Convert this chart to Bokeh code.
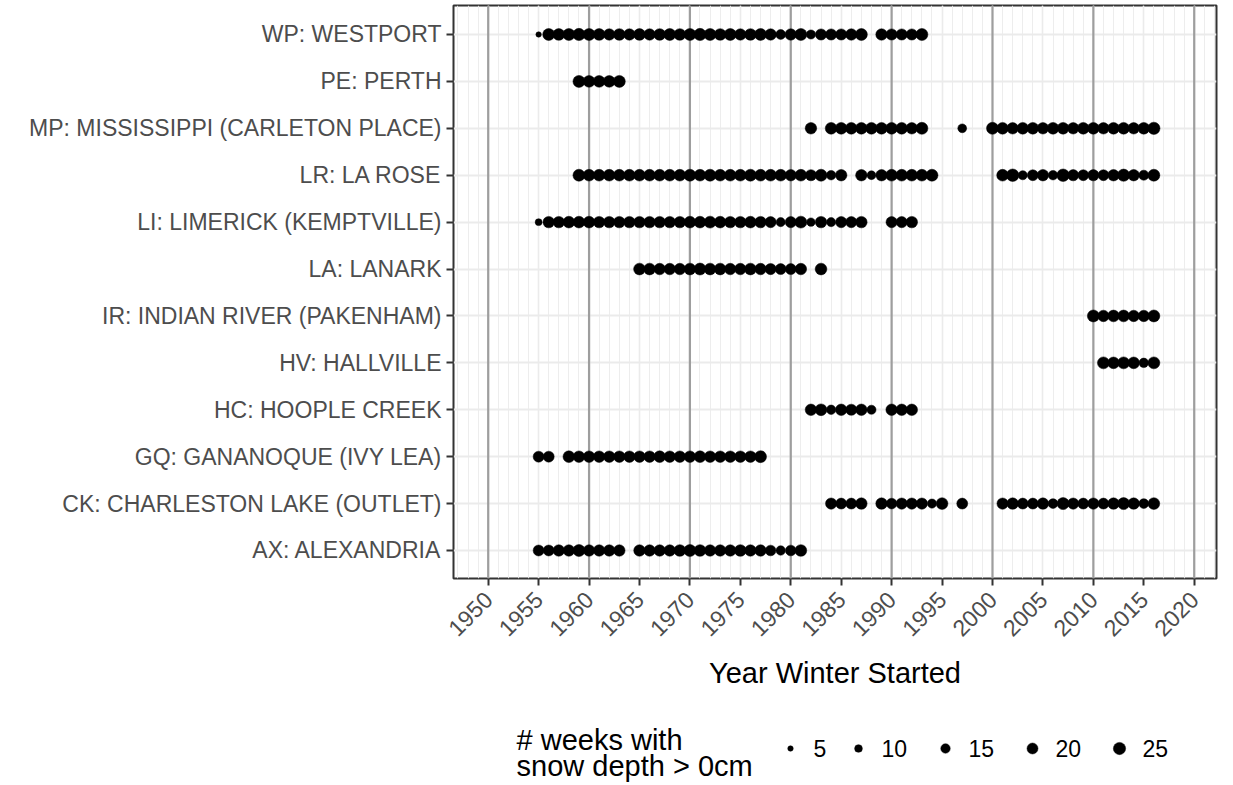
import math
from bokeh.plotting import figure
from bokeh.models import ColumnDataSource, FixedTicker, Range1d, Span
from bokeh.layouts import column
from bokeh.embed import file_html
from bokeh.resources import INLINE
from bokeh.core.properties import value

FONT = "Liberation Sans"

# ---------------- data ----------------
stations = [
    "AX: ALEXANDRIA",
    "CK: CHARLESTON LAKE (OUTLET)",
    "GQ: GANANOQUE (IVY LEA)",
    "HC: HOOPLE CREEK",
    "HV: HALLVILLE",
    "IR: INDIAN RIVER (PAKENHAM)",
    "LA: LANARK",
    "LI: LIMERICK (KEMPTVILLE)",
    "LR: LA ROSE",
    "MP: MISSISSIPPI (CARLETON PLACE)",
    "PE: PERTH",
    "WP: WESTPORT",
]

ax_years = [1955, 1956, 1957, 1958, 1959, 1960, 1961, 1962, 1963,
            1965, 1966, 1967, 1968, 1969, 1970, 1971, 1972, 1973, 1974, 1975,
            1976, 1977, 1978, 1979, 1980, 1981]
ax_weeks = [20, 20, 22, 22, 24, 22, 22, 22, 22,
            22, 22, 22, 22, 23, 24, 23, 22, 22, 22, 23,
            22, 22, 19, 15, 19, 23]

ck_years = [1984, 1985, 1986, 1987,
            1989, 1990, 1991, 1992, 1993, 1994, 1995,
            1997,
            2001, 2002, 2003, 2004, 2005, 2006, 2007, 2008, 2009, 2010,
            2011, 2012, 2013, 2014, 2015, 2016]
ck_weeks = [21, 20, 20, 22,
            22, 19, 21, 21, 21, 14, 23,
            20,
            21, 22, 20, 20, 22, 16, 24, 21, 20, 21,
            20, 22, 24, 22, 16, 23]

gq_years = [1955, 1956,
            1958, 1959, 1960, 1961, 1962, 1963, 1964, 1965, 1966, 1967,
            1968, 1969, 1970, 1971, 1972, 1973, 1974, 1975, 1976, 1977]
gq_weeks = [20, 20,
            23, 22, 22, 22, 22, 22, 22, 22, 22, 23,
            22, 22, 22, 23, 22, 22, 22, 22, 22, 24]

hc_years = [1982, 1983, 1984, 1985, 1986, 1987, 1988, 1990, 1991, 1992]
hc_weeks = [22, 23, 15, 22, 21, 22, 14, 22, 22, 22]

hv_years = [2011, 2012, 2013, 2014, 2015, 2016]
hv_weeks = [24, 23, 24, 23, 15, 24]

ir_years = [2010, 2011, 2012, 2013, 2014, 2015, 2016]
ir_weeks = [24, 22, 23, 23, 22, 22, 24]

la_years = [1965, 1966, 1967, 1968, 1969, 1970, 1971, 1972, 1973, 1974,
            1975, 1976, 1977, 1978, 1979, 1980, 1981, 1983]
la_weeks = [23, 23, 22, 22, 22, 23, 24, 23, 23, 22,
            22, 23, 22, 21, 20, 20, 22, 23]

li_years = [1955, 1956, 1957, 1958, 1959, 1960, 1961, 1962, 1963, 1964,
            1965, 1966, 1967, 1968, 1969, 1970, 1971, 1972, 1973, 1974,
            1975, 1976, 1977, 1978, 1979, 1980, 1981, 1982, 1983, 1984,
            1985, 1986, 1987, 1990, 1991, 1992]
li_weeks = [8, 22, 22, 23, 23, 23, 22, 22, 22, 22,
            22, 22, 22, 22, 22, 23, 23, 24, 23, 22,
            22, 23, 22, 21, 14, 21, 24, 12, 22, 14,
            21, 21, 22, 21, 21, 22]

lr_years = [1959, 1960, 1961, 1962, 1963, 1964, 1965, 1966, 1967, 1968,
            1969, 1970, 1971, 1972, 1973, 1974, 1975, 1976, 1977, 1978,
            1979, 1980, 1981, 1982, 1983, 1984, 1985,
            1987, 1988, 1989, 1990, 1991, 1992, 1993, 1994,
            2001, 2002, 2003, 2004, 2005, 2006, 2007, 2008, 2009, 2010,
            2011, 2012, 2013, 2014, 2015, 2016]
lr_weeks = [24, 23, 23, 23, 23, 23, 23, 23, 23, 23,
            23, 24, 23, 24, 23, 23, 23, 24, 23, 23,
            23, 22, 23, 21, 24, 15, 22,
            22, 13, 22, 23, 23, 23, 23, 24,
            23, 26, 14, 20, 22, 15, 26, 21, 20, 21,
            20, 22, 25, 22, 17, 24]

mp_years = [1982,
            1984, 1985, 1986, 1987, 1988, 1989, 1990, 1991, 1992, 1993,
            1997,
            2000, 2001, 2002, 2003, 2004, 2005, 2006, 2007, 2008, 2009,
            2010, 2011, 2012, 2013, 2014, 2015, 2016]
mp_weeks = [22,
            23, 23, 23, 23, 23, 23, 23, 23, 22, 24,
            13,
            24, 23, 22, 23, 23, 22, 23, 23, 22, 23,
            23, 22, 23, 23, 22, 23, 25]

pe_years = [1959, 1960, 1961, 1962, 1963]
pe_weeks = [24, 23, 23, 23, 24]

wp_years = [1955, 1956, 1957, 1958, 1959, 1960, 1961, 1962, 1963, 1964,
            1965, 1966, 1967, 1968, 1969, 1970, 1971, 1972, 1973, 1974,
            1975, 1976, 1977, 1978, 1979, 1980, 1981, 1982, 1983, 1984,
            1985, 1986, 1987, 1989, 1990, 1991, 1992, 1993]
wp_weeks = [5, 24, 23, 24, 25, 24, 23, 22, 23, 22,
            23, 22, 23, 24, 23, 24, 25, 24, 23, 24,
            22, 23, 24, 22, 16, 22, 24, 14, 21, 21,
            21, 22, 24, 22, 21, 21, 21, 24]

decades = [1950, 1960, 1970, 1980, 1990, 2000, 2010, 2020]
x_ticks = [1950, 1955, 1960, 1965, 1970, 1975, 1980, 1985, 1990, 1995,
           2000, 2005, 2010, 2015, 2020]
legend_weeks = [5, 10, 15, 20, 25]
legend_title = ["# weeks with", "snow depth > 0cm"]

series = [
    (ax_years, ax_weeks), (ck_years, ck_weeks), (gq_years, gq_weeks),
    (hc_years, hc_weeks), (hv_years, hv_weeks), (ir_years, ir_weeks),
    (la_years, la_weeks), (li_years, li_weeks), (lr_years, lr_weeks),
    (mp_years, mp_weeks), (pe_years, pe_weeks), (wp_years, wp_weeks),
]


def dot_size(w):
    # marker area proportional to number of weeks
    return 2.45 * math.sqrt(w)


xs, ys, ss = [], [], []
for i, (yrs, wks) in enumerate(series):
    for yr, wk in zip(yrs, wks):
        xs.append(yr)
        ys.append(i)
        ss.append(dot_size(wk))
src = ColumnDataSource(dict(x=xs, y=ys, s=ss))

# ---------------- layout constants (page pixels) ----------------
W = 1233
LEFT = 453
RIGHT_PAD = 17
MAIN_H = 692
LEG_H = 785 - MAIN_H

# ---------------- main figure ----------------
p = figure(width=W, height=MAIN_H, output_backend="svg", toolbar_location=None,
           x_range=Range1d(1946.56, 2022.21), y_range=Range1d(-0.597, 11.618),
           min_border_left=LEFT, min_border_right=RIGHT_PAD, min_border_top=5,
           min_border_bottom=MAIN_H - 578, background_fill_color="white",
           border_fill_color="white")

p.outline_line_color = "#333333"
p.outline_line_width = 2

# grid
p.xgrid.ticker = FixedTicker(ticks=x_ticks, minor_ticks=list(range(1946, 2023)))
p.xgrid.grid_line_color = "#ebebeb"
p.xgrid.grid_line_width = 1.6
p.xgrid.minor_grid_line_color = "#ebebeb"
p.xgrid.minor_grid_line_width = 0.9
p.ygrid.ticker = FixedTicker(ticks=list(range(len(stations))))
p.ygrid.grid_line_color = "#ebebeb"
p.ygrid.grid_line_width = 1.8

for d in decades:
    p.add_layout(Span(location=d, dimension="height", line_color="#9e9e9e",
                      line_width=2.2, level="underlay"))

p.scatter("x", "y", size="s", source=src, fill_color="black",
          line_color="black", line_width=0.5)

# axes
p.xaxis.ticker = FixedTicker(ticks=x_ticks, minor_ticks=[])
p.yaxis.ticker = FixedTicker(ticks=list(range(len(stations))), minor_ticks=[])
p.yaxis.major_label_overrides = {i: s for i, s in enumerate(stations)}
for axis in (p.xaxis, p.yaxis):
    axis.axis_line_color = None
    axis.major_tick_line_color = "#333333"
    axis.major_tick_line_width = 2
    axis.major_tick_out = 7
    axis.major_tick_in = 0
    axis.minor_tick_line_color = None
    axis.major_label_text_font = FONT
    axis.major_label_text_color = "#4d4d4d"
    axis.major_label_text_font_size = "23px"
p.yaxis.major_label_standoff = 5
p.xaxis.major_label_standoff = 10
p.xaxis.major_label_orientation = math.pi / 4
p.xaxis.axis_label = "Year Winter Started"
p.xaxis.axis_label_text_font = FONT
p.xaxis.axis_label_text_font_size = "29px"
p.xaxis.axis_label_text_font_style = "normal"
p.xaxis.axis_label_text_color = "black"
p.xaxis.axis_label_standoff = 10

# ---------------- legend figure (coordinates = page pixels) ----------------
leg = figure(width=W, height=LEG_H, output_backend="svg", toolbar_location=None,
             x_range=Range1d(LEFT, W - RIGHT_PAD),
             y_range=Range1d(785, MAIN_H),
             min_border_left=LEFT, min_border_right=RIGHT_PAD,
             min_border_top=0, min_border_bottom=0,
             background_fill_color="white", border_fill_color="white")
leg.outline_line_color = None
leg.axis.visible = False
leg.grid.visible = False

key_y = 748
key_x = [790, 858, 945, 1032, 1119]
lab_x = [813, 881, 968, 1055, 1142]
leg.scatter(key_x, [key_y] * 5, size=[dot_size(w) for w in legend_weeks],
            fill_color="black", line_color="black", line_width=0.5)
leg.text(lab_x, [key_y] * 5, text=[str(w) for w in legend_weeks],
         text_font=value(FONT), text_font_size="23px", text_color="black",
         text_baseline="middle", text_align="left")
leg.text([516, 516], [739, 765], text=legend_title,
         text_font=value(FONT), text_font_size="29px", text_color="black",
         text_baseline="middle", text_align="left")

layout = column(p, leg, spacing=0)
open("out.html", "w").write(file_html(layout, INLINE))
